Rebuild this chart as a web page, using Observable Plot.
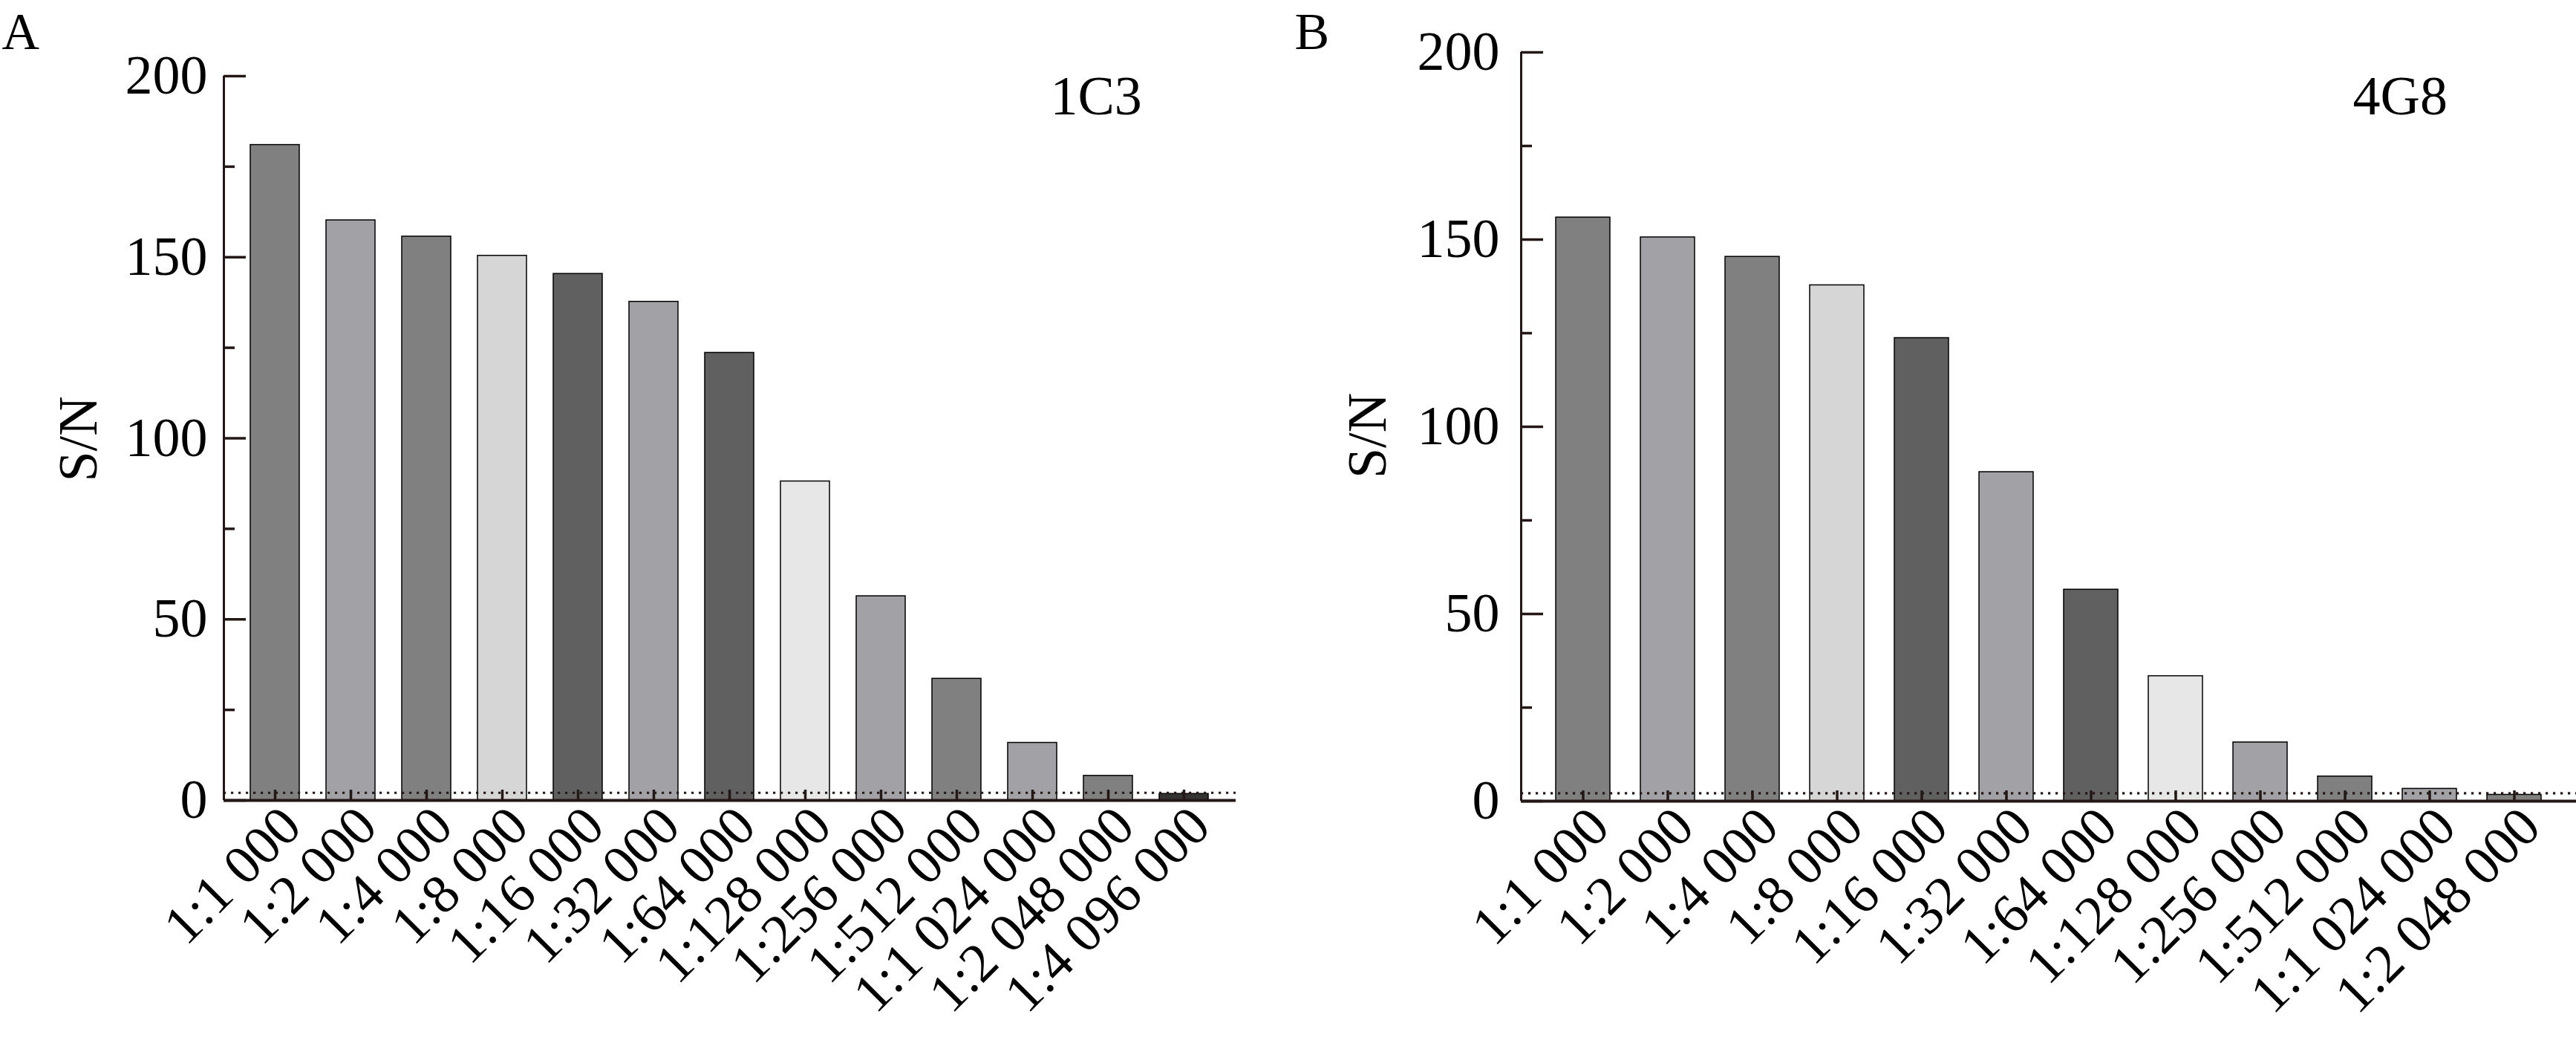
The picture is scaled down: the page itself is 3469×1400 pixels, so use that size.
<!DOCTYPE html>
<html><head><meta charset="utf-8">
<script src="https://cdn.jsdelivr.net/npm/d3@7"></script>
<script src="https://cdn.jsdelivr.net/npm/@observablehq/plot@0.6"></script>
<style>
html,body{margin:0;padding:0;background:#fff;}
#wrap{position:relative;width:3469px;height:1400px;display:flex;overflow:hidden;}
#wrap svg{display:block;flex:none;}
</style></head><body><div id="wrap"></div>
<script>
// Panel A (1C3)
const labelsA = ["1:1 000","1:2 000","1:4 000","1:8 000","1:16 000","1:32 000","1:64 000","1:128 000","1:256 000","1:512 000","1:1 024 000","1:2 048 000","1:4 096 000"];
const valuesA = [181, 160.2, 155.7, 150.4, 145.4, 137.7, 123.6, 88.1, 56.4, 33.6, 15.9, 6.8, 1.8];
const colorsA = ["#808080","#a2a2a6","#808080","#d6d6d6","#606060","#a2a2a6","#606060","#e7e7e7","#a2a2a6","#808080","#a2a2a6","#808080","#333333"];
// Panel B (4G8)
const labelsB = ["1:1 000","1:2 000","1:4 000","1:8 000","1:16 000","1:32 000","1:64 000","1:128 000","1:256 000","1:512 000","1:1 024 000","1:2 048 000"];
const valuesB = [155.9, 150.6, 145.4, 137.8, 123.7, 87.9, 56.5, 33.4, 15.7, 6.6, 3.3, 1.7];
const colorsB = ["#808080","#a2a2a6","#808080","#d6d6d6","#606060","#a2a2a6","#606060","#e7e7e7","#a2a2a6","#808080","#a2a2a6","#808080"];
// Axis
const yTicks = [0, 50, 100, 150, 200];
const yMinorTicks = [25, 75, 125, 175];
const cutoff = 2.1;
const yTitle = "S/N";

const ink = "#231815";
const font = "'Liberation Serif', 'Times New Roman', serif";

function panel(o) {
  const data = o.labels.map((l, i) => ({label: l, value: o.values[i], color: o.colors[i]}));
  const frameW = o.width - o.marginLeft - o.marginRight;
  return Plot.plot({
    width: o.width, height: 1400,
    marginLeft: o.marginLeft, marginRight: o.marginRight, marginTop: o.marginTop, marginBottom: o.marginBottom,
    style: {fontFamily: font, background: "white", color: "black", overflow: "visible"},
    x: {domain: o.labels, padding: o.padding, label: null},
    y: {domain: [0, 200], label: null, nice: false},
    marks: [
      Plot.barY(data, {x: "label", y: "value", fill: "color", stroke: "black", strokeWidth: 1.5}),
      Plot.ruleY([cutoff], {stroke: ink, strokeWidth: 3.2, strokeDasharray: "3.2 6.8"}),
      Plot.axisX({tickSize: 14, dy: -14, fill: "none", stroke: ink, strokeWidth: 3.5, label: null}),
      Plot.axisX({tickSize: 0, tickRotate: -45, fontSize: 74, tickPadding: o.xPad, dx: o.xDx, label: null, fill: "black"}),
      Plot.axisY({ticks: yTicks, tickSize: 30, dx: 30, fill: "none", stroke: ink, strokeWidth: 3.5, label: null}),
      Plot.axisY({ticks: yMinorTicks, tickSize: 15, dx: 15, fill: "none", stroke: ink, strokeWidth: 3.5, label: null}),
      Plot.axisY({ticks: yTicks, tickSize: 0, fontSize: 74, tickPadding: o.yPad, label: null, fill: "black"}),
      Plot.ruleY([0], {stroke: ink, strokeWidth: 4}),
      Plot.ruleX([0], {x: null, dx: -frameW / 2, stroke: ink, strokeWidth: 3}),
      Plot.text([yTitle], {frameAnchor: "left", dx: o.titleDx, dy: o.titleDy, rotate: -90, fontSize: 74, textAnchor: "middle", lineAnchor: "middle", fill: "black"}),
      Plot.text([o.letter], {frameAnchor: "top-left", dx: o.letterDx, dy: o.letterDy, fontSize: 70, textAnchor: "start", lineAnchor: "bottom", fill: "black"}),
      Plot.text([o.name], {frameAnchor: "top-left", dx: o.nameDx, dy: o.nameDy, fontSize: 74, textAnchor: "start", lineAnchor: "bottom", fill: "black"})
    ]
  });
}

const wrap = document.getElementById("wrap");
wrap.appendChild(panel({
  labels: labelsA, values: valuesA, colors: colorsA, letter: "A", name: "1C3",
  width: 1734, marginLeft: 301, marginRight: 70, marginTop: 102, marginBottom: 323, padding: 0.35,
  xPad: 22, xDx: 22, yPad: 22,
  titleDx: -195, titleDy: 1, letterDx: -299, letterDy: -37, nameDx: 1113, nameDy: 51
}));
wrap.appendChild(panel({
  labels: labelsB, values: valuesB, colors: colorsB, letter: "B", name: "4G8",
  width: 1735, marginLeft: 314, marginRight: 0, marginTop: 70, marginBottom: 322, padding: 0.36,
  xPad: 22, xDx: 22, yPad: 29,
  titleDx: -206, titleDy: 12, letterDx: -305, letterDy: -5, nameDx: 1120, nameDy: 83
}));
</script>
</body></html>
